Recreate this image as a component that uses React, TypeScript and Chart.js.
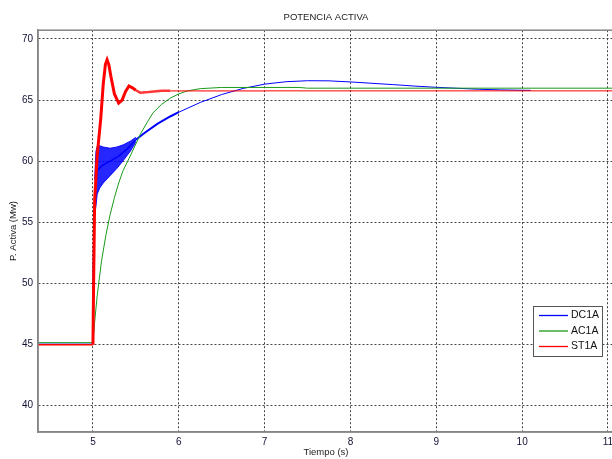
import React, { useEffect, useRef } from "react";
import { Chart, registerables } from "chart.js";

Chart.register(...registerables);

// ---- texts & ticks ----
const titleText = "POTENCIA ACTIVA";
const xAxisLabel = "Tiempo (s)";
const yAxisLabel = "P. Activa (Mw)";
const xTickValues = [5, 6, 7, 8, 9, 10, 11];
const yTickValues = [40, 45, 50, 55, 60, 65, 70];
const xRange = [4.36, 11.07];
const yRange = [37.8, 70.72];

const seriesNames = ["DC1A", "AC1A", "ST1A"];
const seriesColors = ["#0000ff", "#1a9a1a", "#ff0000"];

// ---- DC1A (blue) ----
const dcT = [4.36, 5.0, 5.005, 5.015, 5.03, 5.05, 5.1, 5.2, 5.3, 5.4, 5.5, 5.6, 5.75, 5.9, 6.0, 6.25, 6.5, 6.75, 7.0, 7.25, 7.5, 7.75, 8.0, 8.25, 8.5, 8.75, 9.0, 9.25, 9.5, 9.75, 10.0, 10.1];
const dcV = [45.0, 45.0, 51.5, 55.5, 58.0, 59.2, 59.6, 60.0, 60.4, 61.0, 61.75, 62.3, 63.05, 63.65, 64.0, 64.8, 65.45, 65.95, 66.3, 66.5, 66.58, 66.57, 66.48, 66.37, 66.26, 66.14, 66.04, 65.96, 65.88, 65.83, 65.8, 65.79];
// oscillation envelope of DC1A right after the step
const dcBandT = [5.02, 5.035, 5.05, 5.08, 5.12, 5.2, 5.28, 5.36, 5.44, 5.5];
const dcBandLow = [55.6, 56.3, 57.3, 57.8, 58.2, 58.8, 59.4, 60.1, 60.85, 61.55];
const dcBandHigh = [58.5, 60.8, 61.2, 61.25, 61.15, 61.05, 61.15, 61.35, 61.65, 61.95];

// ---- AC1A (green) ----
const acT = [4.36, 5.0, 5.02, 5.05, 5.1, 5.15, 5.2, 5.25, 5.3, 5.35, 5.42, 5.5, 5.56, 5.63, 5.7, 5.8, 5.9, 6.0, 6.1, 6.25, 6.5, 7.4, 7.5, 11.07];
const acV = [45.12, 45.12, 46.8, 49.0, 51.8, 53.9, 55.6, 57.0, 58.2, 59.2, 60.2, 61.4, 62.3, 63.15, 63.95, 64.65, 65.15, 65.5, 65.75, 65.93, 66.03, 66.03, 65.97, 65.97];

// ---- ST1A (red) ----
const stT = [4.36, 5.0, 5.008, 5.02, 5.05, 5.09, 5.12, 5.145, 5.165, 5.185, 5.21, 5.25, 5.3, 5.34, 5.38, 5.42, 5.46, 5.5, 5.55, 5.65, 5.8, 5.9, 7.0, 11.07];
const stV = [44.95, 44.95, 50.0, 56.8, 60.5, 63.4, 66.3, 67.9, 68.3, 67.9, 66.9, 65.5, 64.75, 65.0, 65.7, 66.15, 66.0, 65.8, 65.6, 65.65, 65.75, 65.75, 65.75, 65.75];

const FONT = "'Liberation Sans', Arial, Helvetica, sans-serif";
const FS_TITLE = 9.5;
const FS = 10;

const pts = (t: number[], v: number[]) => t.map((x, i) => ({ x, y: v[i] }));

const framePlugin = {
  id: "frame",
  afterDatasetsDraw(chart: any) {
    const { ctx, chartArea: a } = chart;
    ctx.save();
    ctx.setLineDash([]);
    ctx.strokeStyle = "#858585";
    ctx.lineWidth = 1.5;
    ctx.strokeRect(a.left, a.top, a.right - a.left, a.bottom - a.top);
    ctx.restore();
  },
};

const legendPlugin = {
  id: "matLegend",
  afterDraw(chart: any) {
    const { ctx, chartArea: a } = chart;
    const w = 69;
    const h = 50;
    const x0 = Math.round(a.right - 12 - w);
    const y0 = Math.round(a.bottom - 76 - h);
    ctx.save();
    ctx.setLineDash([]);
    ctx.fillStyle = "#ffffff";
    ctx.fillRect(x0, y0, w, h);
    ctx.strokeStyle = "#555555";
    ctx.lineWidth = 1;
    ctx.strokeRect(x0 + 0.5, y0 + 0.5, w, h);
    ctx.font = FS + 0.5 + "px " + FONT;
    ctx.textBaseline = "middle";
    ctx.textAlign = "left";
    seriesNames.forEach((name, i) => {
      const y = y0 + 9.5 + i * 15.5;
      ctx.strokeStyle = seriesColors[i];
      ctx.lineWidth = 1.3;
      ctx.beginPath();
      ctx.moveTo(x0 + 6, y);
      ctx.lineTo(x0 + 35, y);
      ctx.stroke();
      ctx.fillStyle = "#111111";
      ctx.fillText(name, x0 + 38, y);
    });
    ctx.restore();
  },
};

export default function App() {
  const ref = useRef<HTMLCanvasElement>(null);

  useEffect(() => {
    if (!ref.current) return;
    const redWidth = (ctx: any) => {
      const x = ctx.p0.parsed.x;
      if (x < 5.0) return 1.5;
      if (x < 5.5) return 3;
      if (x < 5.9) return 2.5;
      if (x < 7.0) return 1.8;
      return 1;
    };
    const redColor = (ctx: any) => {
      const x = ctx.p0.parsed.x;
      if (x < 5.5) return "#ff0000";
      if (x < 5.9) return "rgba(255,20,20,0.85)";
      if (x < 7.0) return "rgba(255,0,0,0.6)";
      return "#ff0000";
    };
    const blueWidth = (ctx: any) => {
      const x = ctx.p0.parsed.x;
      if (x < 5.0) return 1;
      if (x < 5.5) return 1.5;
      if (x < 6.0) return 2;
      return 1;
    };

    const gridCommon = {
      color: "#444444",
      lineWidth: 1,
      drawTicks: false,
    };
    const borderCommon = { display: true, color: "#858585", width: 1.5, dash: [2, 2] };

    const chart = new Chart(ref.current, {
      type: "line",
      data: {
        datasets: [
          {
            label: seriesNames[2],
            data: pts(stT, stV),
            borderColor: seriesColors[2],
            borderWidth: 1,
            pointRadius: 0,
            fill: false,
            order: 0,
            segment: { borderWidth: redWidth, borderColor: redColor },
          } as any,
          {
            label: seriesNames[1],
            data: pts(acT, acV),
            borderColor: seriesColors[1],
            borderWidth: 1,
            pointRadius: 0,
            fill: false,
            order: 1,
          },
          {
            label: seriesNames[0],
            data: pts(dcT, dcV),
            borderColor: seriesColors[0],
            borderWidth: 1,
            pointRadius: 0,
            fill: false,
            order: 2,
            segment: { borderWidth: blueWidth },
          } as any,
          {
            label: "",
            data: pts(dcBandT, dcBandHigh),
            borderColor: "rgba(0,0,255,0.9)",
            borderWidth: 1,
            pointRadius: 0,
            fill: false,
            order: 3,
          },
          {
            label: "",
            data: pts(dcBandT, dcBandLow),
            borderColor: "rgba(0,0,255,0.9)",
            backgroundColor: "rgba(0,0,255,0.85)",
            borderWidth: 1,
            pointRadius: 0,
            fill: "-1",
            order: 3,
          },
        ],
      },
      options: {
        responsive: false,
        animation: false,
        devicePixelRatio: 1,
        layout: { padding: { left: 0, right: 12, top: 0, bottom: 0 } },
        plugins: {
          legend: { display: false },
          tooltip: { enabled: false },
          title: {
            display: true,
            text: titleText,
            color: "#222222",
            fullSize: false,
            font: { family: FONT, size: FS_TITLE, weight: "normal" },
            padding: { top: 11.6, bottom: 7.2 },
          },
        },
        scales: {
          x: {
            type: "linear",
            min: xRange[0],
            max: xRange[1],
            afterFit: (s: any) => {
              s.height = 27;
            },
            afterBuildTicks: (s: any) => {
              s.ticks = xTickValues.map((v) => ({ value: v }));
            },
            ticks: {
              color: "#111133",
              font: { family: FONT, size: FS },
              padding: 4,
              maxRotation: 0,
              autoSkip: false,
            },
            grid: gridCommon,
            border: borderCommon,
            title: {
              display: true,
              text: xAxisLabel,
              color: "#222222",
              font: { family: FONT, size: FS_TITLE },
              padding: { top: 0, bottom: 1 },
            },
          },
          y: {
            type: "linear",
            min: yRange[0],
            max: yRange[1],
            afterFit: (s: any) => {
              s.width = 38;
            },
            afterBuildTicks: (s: any) => {
              s.ticks = yTickValues.map((v) => ({ value: v }));
            },
            ticks: {
              color: "#111133",
              font: { family: FONT, size: FS },
              padding: 5,
              autoSkip: false,
            },
            grid: gridCommon,
            border: borderCommon,
            title: {
              display: true,
              text: yAxisLabel,
              color: "#222222",
              font: { family: FONT, size: FS_TITLE },
              padding: { top: 8, bottom: 0 },
            },
          },
        },
      } as any,
      plugins: [framePlugin, legendPlugin],
    });
    return () => chart.destroy();
  }, []);

  return (
    <div
      style={{
        position: "fixed",
        left: 0,
        top: 0,
        width: 612,
        height: 459,
        overflow: "hidden",
        background: "#ffffff",
      }}
    >
      <canvas ref={ref} width={626} height={459} style={{ display: "block", width: 626, height: 459 }} />
    </div>
  );
}
